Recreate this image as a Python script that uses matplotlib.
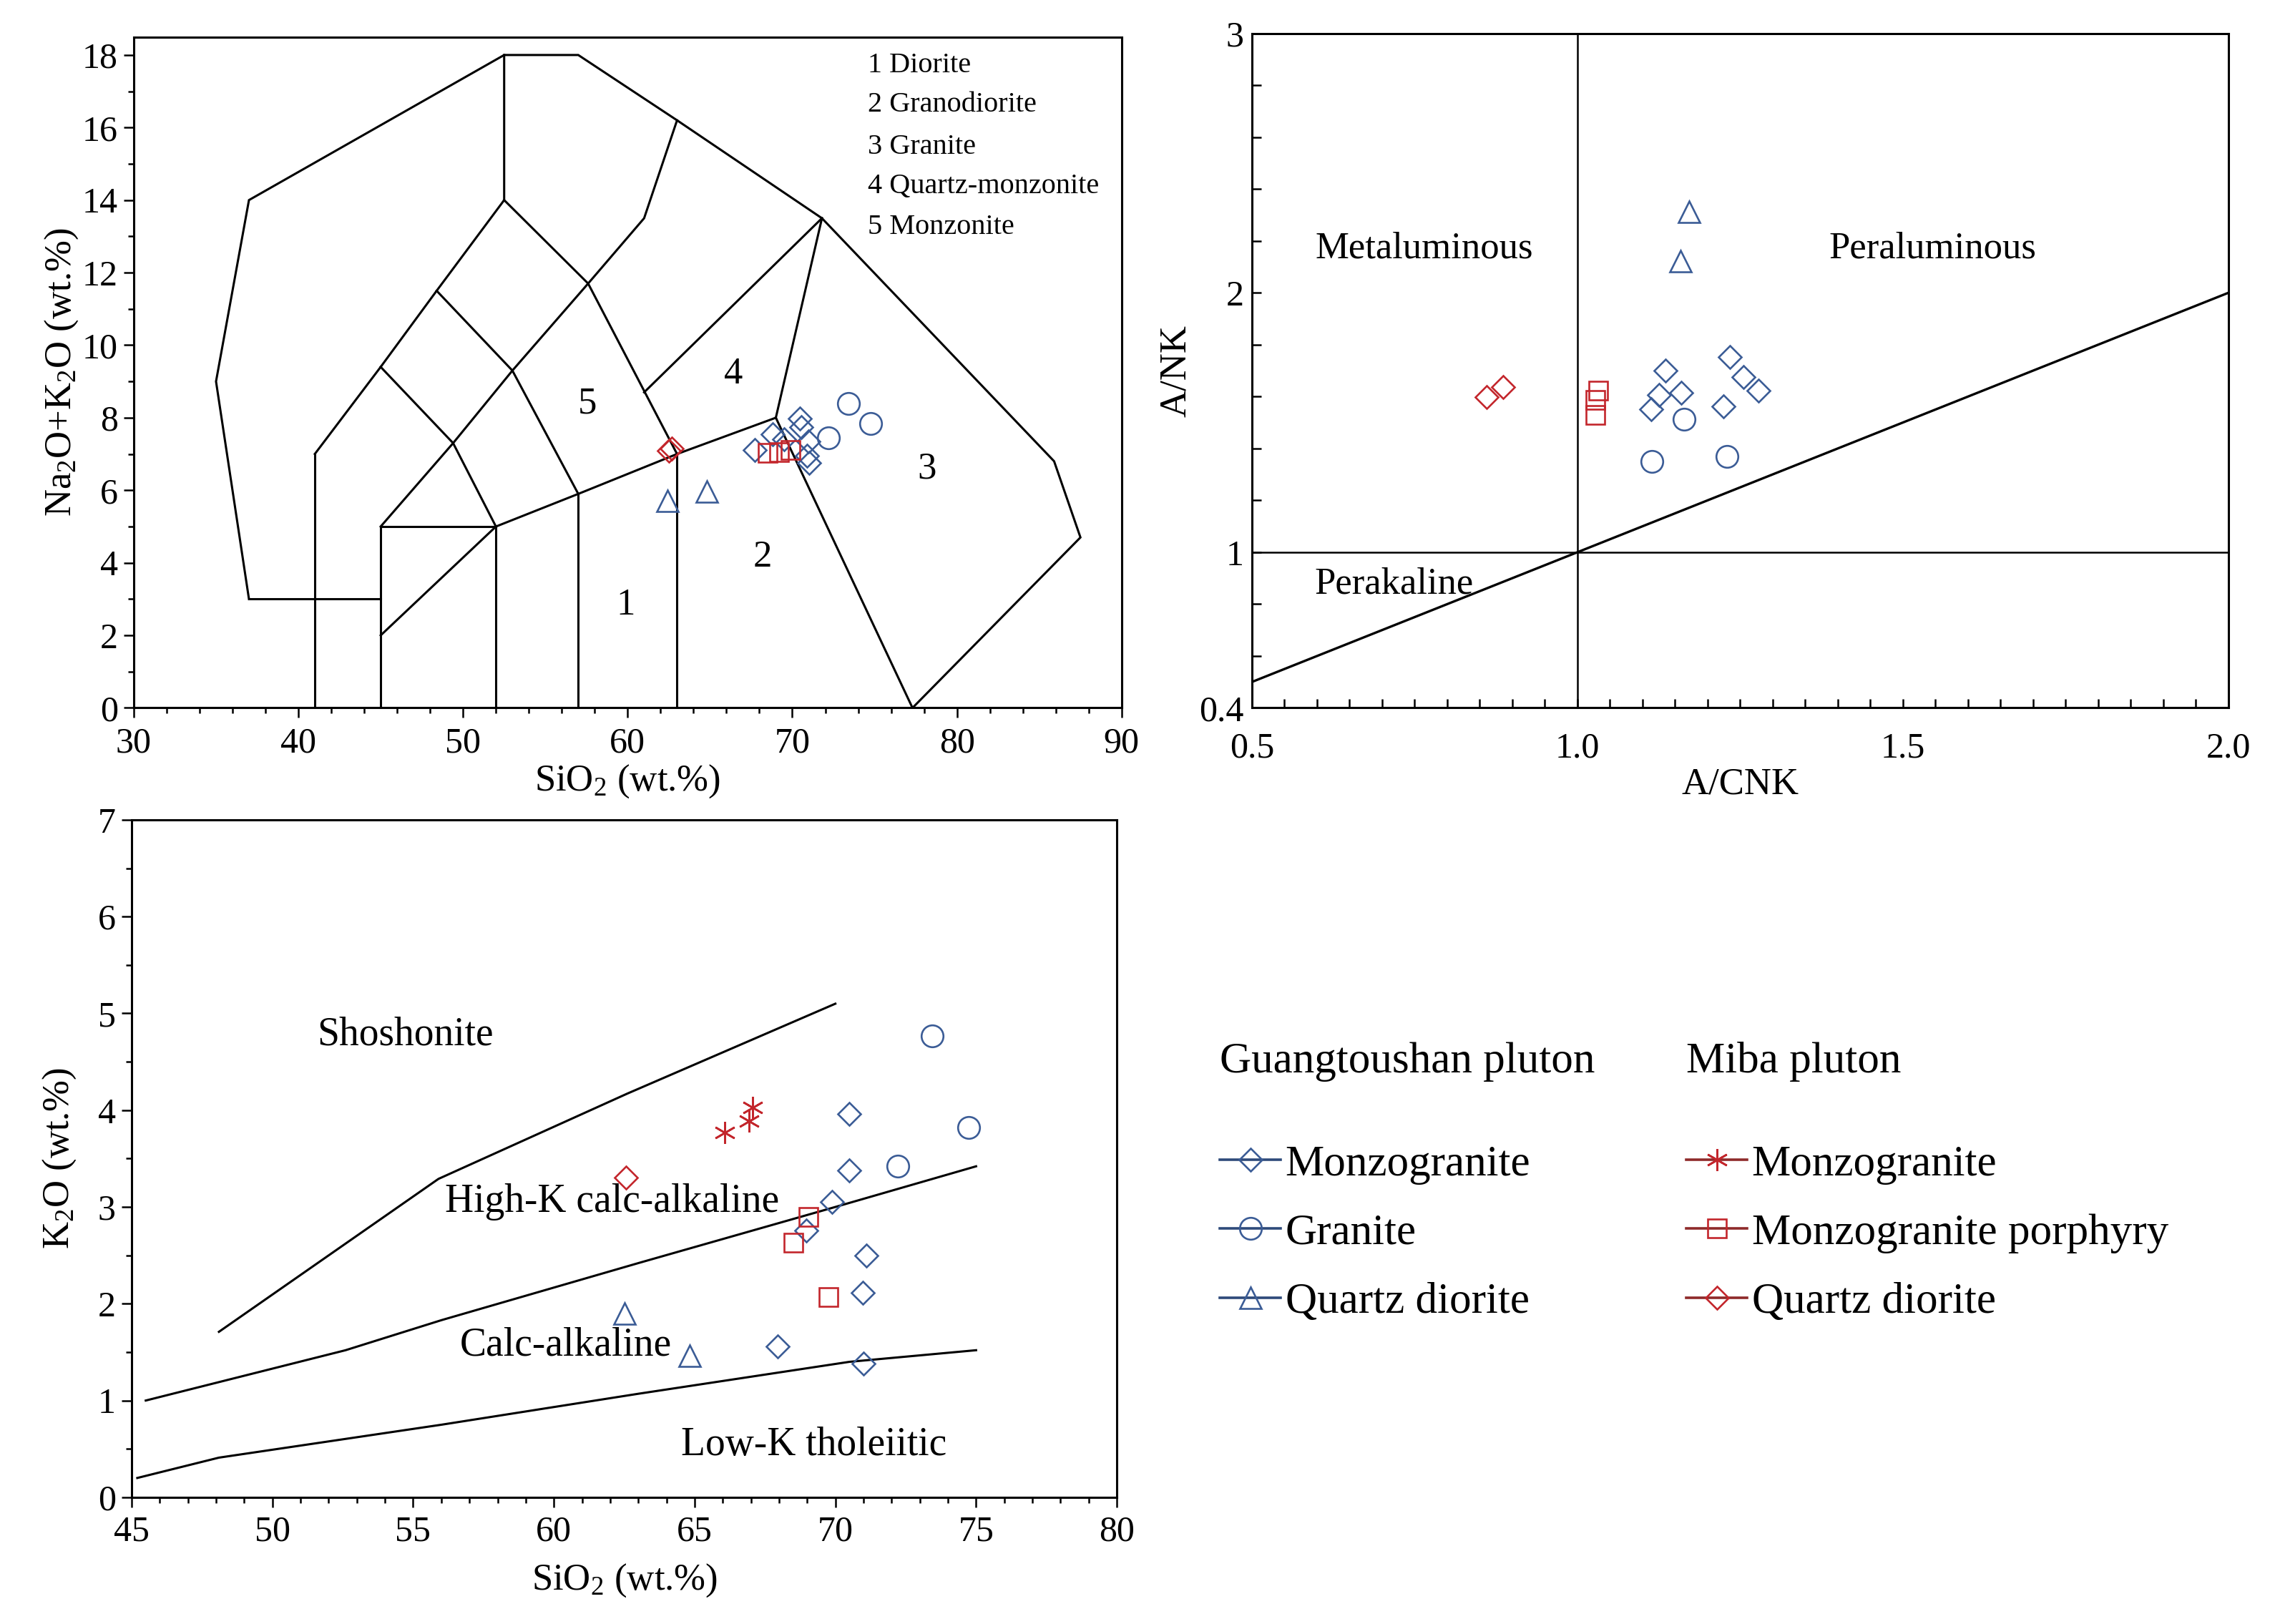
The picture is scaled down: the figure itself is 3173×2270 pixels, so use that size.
import matplotlib
matplotlib.use('Agg')
import matplotlib.pyplot as plt
from matplotlib.lines import Line2D
from matplotlib.ticker import MultipleLocator

plt.rcParams['font.family'] = ['Liberation Serif', 'DejaVu Serif']
plt.rcParams['mathtext.fontset'] = 'custom'
plt.rcParams['mathtext.rm'] = 'Liberation Serif'
plt.rcParams['mathtext.default'] = 'regular'

BLUE = '#3b5c96'
RED = '#c3262c'

# ---------------- TAS (SiO2 vs Na2O+K2O) ----------------
tas_gt_mzg_sio2 = [70.46, 70.53, 70.96, 70.89, 71.04, 68.79, 67.71, 69.50]
tas_gt_mzg_alk = [7.97, 7.74, 7.34, 6.95, 6.75, 7.54, 7.11, 7.40]
tas_gt_gr_sio2 = [73.43, 74.76, 72.19]
tas_gt_gr_alk = [8.40, 7.84, 7.44]
tas_gt_qd_sio2 = [62.42, 64.81]
tas_gt_qd_alk = [5.70, 5.96]
tas_mb_por_sio2 = [68.5, 69.2, 69.9]
tas_mb_por_alk = [7.03, 7.05, 7.12]
tas_mb_qd_sio2 = [62.5, 62.7]
tas_mb_qd_alk = [7.10, 7.15]

# TAS field boundaries (polylines)
tas_lines = [
    [(37, 3), (35, 9), (37, 14), (52.5, 18), (57, 18), (63, 16.2), (71.8, 13.5),
     (85.9, 6.8), (87.5, 4.7), (77.3, 0)],
    [(37, 3), (45, 3)],
    [(41, 0), (41, 7)],
    [(45, 0), (45, 5)],
    [(45, 5), (52, 5)],
    [(52, 0), (52, 5)],
    [(57, 0), (57, 5.9)],
    [(63, 0), (63, 7)],
    [(45, 2), (52, 5), (57, 5.9), (63, 7), (69, 8)],
    [(69, 8), (77.3, 0)],
    [(69, 8), (71.8, 13.5)],
    [(41, 7), (45, 9.4), (48.4, 11.5), (52.5, 14), (52.5, 18)],
    [(45, 5), (49.4, 7.3), (53, 9.3), (57.6, 11.7), (61, 13.5), (63, 16.2)],
    [(45, 9.4), (49.4, 7.3), (52, 5)],
    [(48.4, 11.5), (53, 9.3), (57, 5.9)],
    [(52.5, 14), (57.6, 11.7), (63, 7)],
    [(61, 8.7), (71.8, 13.5)],
]
tas_field_nums = ['1', '2', '3', '4', '5']
tas_field_x = [59.86, 68.19, 78.16, 66.42, 57.56]
tas_field_y = [2.84, 4.15, 6.58, 9.21, 8.38]
tas_key = ['1 Diorite', '2 Granodiorite', '3 Granite', '4 Quartz-monzonite', '5 Monzonite']
tas_key_y = [17.72, 16.62, 15.47, 14.38, 13.25]

# ---------------- A/CNK vs A/NK ----------------
acnk_gt_mzg = [1.135, 1.234, 1.255, 1.278, 1.159, 1.125, 1.113, 1.224]
anknk_gt_mzg = [1.701, 1.752, 1.674, 1.623, 1.614, 1.605, 1.550, 1.563]
acnk_gt_gr = [1.164, 1.114, 1.230]
ank_gt_gr = [1.512, 1.351, 1.369]
acnk_gt_qd = [1.171, 1.158]
ank_gt_qd = [2.311, 2.122]
acnk_mb_por = [1.032, 1.028, 1.028]
ank_mb_por = [1.623, 1.588, 1.530]
acnk_mb_qd = [0.861, 0.886]
ank_mb_qd = [1.598, 1.637]

# ---------------- SiO2 vs K2O ----------------
k_gt_mzg_sio2 = [70.49, 70.49, 69.89, 68.96, 71.11, 70.98, 67.95, 71.00]
k_gt_mzg_k2o = [3.96, 3.38, 3.05, 2.76, 2.50, 2.11, 1.56, 1.38]
k_gt_gr_sio2 = [73.44, 74.74, 72.22]
k_gt_gr_k2o = [4.77, 3.82, 3.42]
k_gt_qd_sio2 = [62.50, 64.83]
k_gt_qd_k2o = [1.90, 1.46]
k_mb_mzg_sio2 = [66.08, 66.93, 67.06]
k_mb_mzg_k2o = [3.77, 3.89, 4.03]
k_mb_por_sio2 = [69.05, 68.52, 69.76]
k_mb_por_k2o = [2.90, 2.63, 2.07]
k_mb_qd_sio2 = [62.55]
k_mb_qd_k2o = [3.30]

sho_x = [48.1, 55.9, 62.6, 70.0]
sho_y = [1.71, 3.29, 4.17, 5.10]
hk_x = [45.5, 52.6, 56.0, 63.0, 70.0, 75.0]
hk_y = [1.00, 1.52, 1.83, 2.42, 3.00, 3.42]
lk_x = [45.2, 48.1, 56.0, 63.0, 70.5, 75.0]
lk_y = [0.20, 0.41, 0.75, 1.07, 1.40, 1.52]

legend_gt = ['Monzogranite', 'Granite', 'Quartz diorite']
legend_mb = ['Monzogranite', 'Monzogranite porphyry', 'Quartz diorite']

# ---------------- styles ----------------
MEW = 1.9
sty = {
    'gt_mzg': dict(marker='D', ms=16, mfc='none', mec=BLUE, mew=MEW),
    'gt_gr': dict(marker='o', ms=22, mfc='none', mec=BLUE, mew=MEW),
    'gt_qd': dict(marker='^', ms=22, mfc='none', mec=BLUE, mew=MEW),
    'mb_mzg': dict(marker=(6, 2, 0), ms=22, mfc='none', mec=RED, mew=MEW),
    'mb_por': dict(marker='s', ms=19, mfc='none', mec=RED, mew=MEW),
    'mb_qd': dict(marker='D', ms=16, mfc='none', mec=RED, mew=MEW),
}

TICK_FS = 36
LAB_FS = 38
LW = 2.2

fig = plt.figure(figsize=(31.73, 22.70), dpi=100)

def pts(ax, x, y, key):
    ax.plot(x, y, ls='none', **sty[key])

# ================= TAS =================
ax1 = fig.add_axes([0.0589, 0.5641, 0.4352, 0.4132])
for seg in tas_lines:
    xs = [p[0] for p in seg]
    ys = [p[1] for p in seg]
    ax1.plot(xs, ys, color='black', lw=LW, solid_joinstyle='miter')
pts(ax1, tas_gt_gr_sio2, tas_gt_gr_alk, 'gt_gr')
pts(ax1, tas_gt_qd_sio2, tas_gt_qd_alk, 'gt_qd')
pts(ax1, tas_gt_mzg_sio2, tas_gt_mzg_alk, 'gt_mzg')
pts(ax1, tas_mb_por_sio2, tas_mb_por_alk, 'mb_por')
pts(ax1, tas_mb_qd_sio2, tas_mb_qd_alk, 'mb_qd')
for t, x, y in zip(tas_field_nums, tas_field_x, tas_field_y):
    ax1.text(x, y, t, fontsize=38, ha='center', va='center')
for t, y in zip(tas_key, tas_key_y):
    ax1.text(74.6, y, t, fontsize=29, ha='left', va='center')
ax1.set_xlim(30, 90)
ax1.set_ylim(0, 18.5)
ax1.xaxis.set_major_locator(MultipleLocator(10))
ax1.xaxis.set_minor_locator(MultipleLocator(2))
ax1.yaxis.set_major_locator(MultipleLocator(2))
ax1.yaxis.set_minor_locator(MultipleLocator(1))
ax1.tick_params(which='both', direction='out', width=1.8, labelsize=TICK_FS, pad=6)
ax1.tick_params(axis='x', which='both', pad=9)
ax1.tick_params(which='major', length=10)
ax1.tick_params(which='minor', length=6)
ax1.set_xlabel(r'SiO$_2$ (wt.%)', fontsize=LAB_FS, labelpad=3)
ax1.set_ylabel(r'Na$_2$O+K$_2$O (wt.%)', fontsize=LAB_FS, labelpad=2)

# ================= A/CNK - A/NK =================
ax2 = fig.add_axes([0.5515, 0.5641, 0.4302, 0.4154])
ax2.axvline(1.0, color='black', lw=1.8)
ax2.axhline(1.0, color='black', lw=1.8)
ax2.plot([0.5, 2.0], [0.5, 2.0], color='black', lw=2.4)
pts(ax2, acnk_gt_mzg, anknk_gt_mzg, 'gt_mzg')
pts(ax2, acnk_gt_gr, ank_gt_gr, 'gt_gr')
pts(ax2, acnk_gt_qd, ank_gt_qd, 'gt_qd')
pts(ax2, acnk_mb_por, ank_mb_por, 'mb_por')
pts(ax2, acnk_mb_qd, ank_mb_qd, 'mb_qd')
ax2.text(0.765, 2.17, 'Metaluminous', fontsize=38, ha='center', va='center')
ax2.text(1.546, 2.17, 'Peraluminous', fontsize=38, ha='center', va='center')
ax2.text(0.718, 0.878, 'Perakaline', fontsize=38, ha='center', va='center')
ax2.set_xlim(0.5, 2.0)
ax2.set_ylim(0.4, 3.0)
ax2.set_xticks([0.5, 1.0, 1.5, 2.0], ['0.5', '1.0', '1.5', '2.0'])
ax2.set_yticks([0.4, 1, 2, 3], ['0.4', '1', '2', '3'])
ax2.xaxis.set_minor_locator(MultipleLocator(0.05))
ax2.yaxis.set_minor_locator(MultipleLocator(0.2))
ax2.tick_params(which='both', direction='in', width=1.8, length=9, labelsize=TICK_FS, pad=8)
ax2.tick_params(axis='x', which='both', pad=24)
ax2.set_xlabel('A/CNK', fontsize=LAB_FS, labelpad=2)
ax2.set_ylabel('A/NK', fontsize=LAB_FS, labelpad=6)

# ================= SiO2 - K2O =================
ax3 = fig.add_axes([0.0580, 0.0780, 0.4340, 0.4172])
ax3.plot(sho_x, sho_y, color='black', lw=LW)
ax3.plot(hk_x, hk_y, color='black', lw=LW)
ax3.plot(lk_x, lk_y, color='black', lw=LW)
pts(ax3, k_gt_mzg_sio2, k_gt_mzg_k2o, 'gt_mzg')
pts(ax3, k_gt_gr_sio2, k_gt_gr_k2o, 'gt_gr')
pts(ax3, k_gt_qd_sio2, k_gt_qd_k2o, 'gt_qd')
pts(ax3, k_mb_mzg_sio2, k_mb_mzg_k2o, 'mb_mzg')
pts(ax3, k_mb_por_sio2, k_mb_por_k2o, 'mb_por')
pts(ax3, k_mb_qd_sio2, k_mb_qd_k2o, 'mb_qd')
ax3.text(54.72, 4.78, 'Shoshonite', fontsize=40, ha='center', va='center')
ax3.text(62.06, 3.05, 'High-K calc-alkaline', fontsize=40, ha='center', va='center')
ax3.text(60.43, 1.57, 'Calc-alkaline', fontsize=40, ha='center', va='center')
ax3.text(69.24, 0.54, 'Low-K tholeiitic', fontsize=40, ha='center', va='center')
ax3.set_xlim(45, 80)
ax3.set_ylim(0, 7)
ax3.xaxis.set_major_locator(MultipleLocator(5))
ax3.xaxis.set_minor_locator(MultipleLocator(1))
ax3.yaxis.set_major_locator(MultipleLocator(1))
ax3.yaxis.set_minor_locator(MultipleLocator(0.5))
ax3.tick_params(which='both', direction='out', width=1.8, labelsize=TICK_FS, pad=6)
ax3.tick_params(axis='x', which='both', pad=8)
ax3.tick_params(which='major', length=10)
ax3.tick_params(which='minor', length=6)
ax3.set_xlabel(r'SiO$_2$ (wt.%)', fontsize=LAB_FS, labelpad=14)
ax3.set_ylabel(r'K$_2$O (wt.%)', fontsize=LAB_FS, labelpad=20)

for ax in (ax1, ax2, ax3):
    for sp in ax.spines.values():
        sp.set_linewidth(2.2)

# ================= Legend =================
def handle(key, color):
    return Line2D([], [], color=color, lw=2.6, linestyle='-', **sty[key])

LEG_FS = 44
h_gt = [handle('gt_mzg', '#2e4a7a'), handle('gt_gr', '#2e4a7a'), handle('gt_qd', '#2e4a7a')]
h_mb = [handle('mb_mzg', '#8e2a2a'), handle('mb_por', '#8e2a2a'), handle('mb_qd', '#8e2a2a')]
common = dict(loc='upper left', frameon=False, fontsize=LEG_FS, handlelength=1.4,
              handletextpad=0.1, labelspacing=0.66, borderpad=0, borderaxespad=0)
fig.legend(handles=h_gt, labels=legend_gt, bbox_to_anchor=(0.5373, 0.2952), **common)
fig.legend(handles=h_mb, labels=legend_mb, bbox_to_anchor=(0.7428, 0.2952), **common)
fig.text(0.5373, 0.3463, 'Guangtoushan pluton', fontsize=LEG_FS, ha='left', va='center')
fig.text(0.7428, 0.3463, 'Miba pluton', fontsize=LEG_FS, ha='left', va='center')

fig.savefig('out.png', dpi=100, facecolor='white')
